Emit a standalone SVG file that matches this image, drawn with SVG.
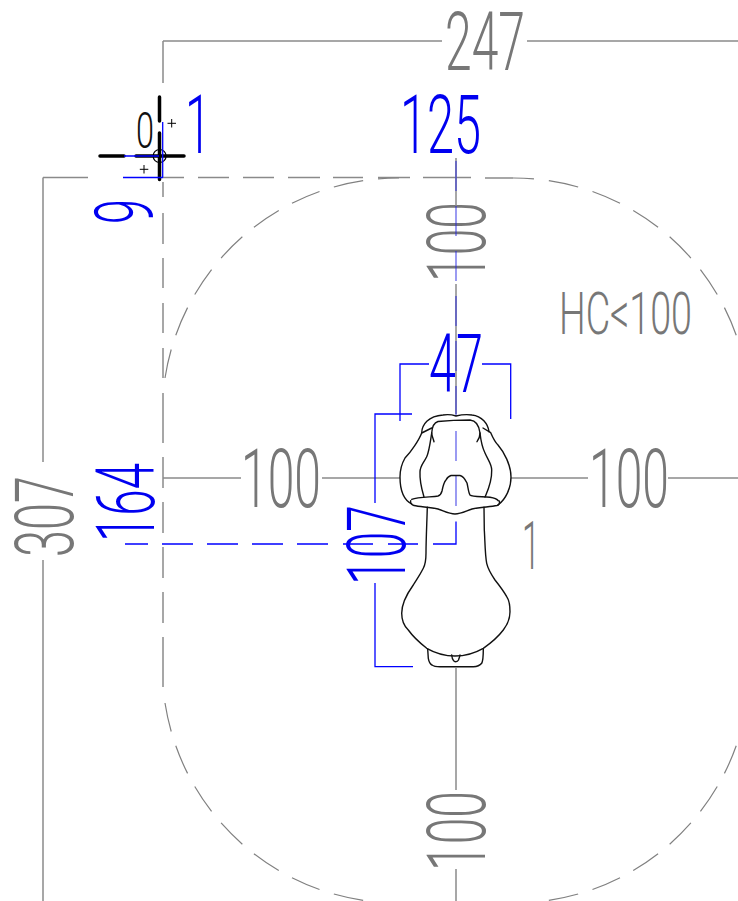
<svg xmlns="http://www.w3.org/2000/svg" width="738" height="901" viewBox="0 0 738 901">
<style>
.g{fill:none;stroke:#8a8a8a;stroke-width:1.5}
.a{fill:none;stroke:#808080;stroke-width:1.2;stroke-dasharray:30 15;stroke-dashoffset:9}
.b{fill:none;stroke:#0000ff;stroke-width:1.3}
.m{fill:none;stroke:#2020e0;stroke-width:1.2;stroke-dasharray:30 15;opacity:.75}
.k{fill:none;stroke:#111;stroke-width:1.4;stroke-linejoin:round;stroke-linecap:round}
.c{fill:none;stroke:#000;stroke-width:3.5;stroke-linecap:round}
text{font-family:"Roboto","Liberation Sans",sans-serif;font-weight:300;font-size:82px}
.tg{fill:#777}
.tb{fill:#0000f0}
</style>
<rect width="738" height="901" fill="#fff"/>
<g id="labels">
<text class="tg" textLength="80" lengthAdjust="spacingAndGlyphs" x="445" y="70">247</text>
<text class="tb" textLength="81" lengthAdjust="spacingAndGlyphs" x="400" y="153">125</text>
<text class="tb" textLength="26" lengthAdjust="spacingAndGlyphs" x="185" y="153">1</text>
<text style="font-size:50px" fill="#111" textLength="18" lengthAdjust="spacingAndGlyphs" x="136" y="148">0</text>
<text class="tb" textLength="25" lengthAdjust="spacingAndGlyphs" transform="translate(153 224) rotate(-90)">9</text>
<text class="tg" textLength="80" lengthAdjust="spacingAndGlyphs" transform="translate(485 282) rotate(-90)">100</text>
<text class="tg" style="font-size:60px" textLength="133" lengthAdjust="spacingAndGlyphs" x="559" y="334">HC&lt;100</text>
<text class="tb" textLength="54" lengthAdjust="spacingAndGlyphs" x="429" y="392">47</text>
<text class="tg" textLength="80" lengthAdjust="spacingAndGlyphs" x="241" y="507">100</text>
<text class="tg" textLength="80" lengthAdjust="spacingAndGlyphs" x="589" y="507">100</text>
<text class="tb" textLength="79" lengthAdjust="spacingAndGlyphs" transform="translate(154 542) rotate(-90)">164</text>
<text class="tg" textLength="81" lengthAdjust="spacingAndGlyphs" transform="translate(73 557) rotate(-90)">307</text>
<text class="tb" textLength="80" lengthAdjust="spacingAndGlyphs" transform="translate(405 585) rotate(-90)">107</text>
<text class="tg" style="font-size:66px" textLength="18" lengthAdjust="spacingAndGlyphs" x="522" y="569">1</text>
<text class="tg" textLength="80" lengthAdjust="spacingAndGlyphs" transform="translate(485 871) rotate(-90)">100</text>
</g>
<g id="connectors">
<path class="g" d="M163 41H442M527 41H738"/>
<path class="g" d="M43 177.500H88M43 177.500V462M43 560V901"/>
<path class="g" d="M163 177.500H184M198 177.500H229M243 177.500H274M288 177.500H320M333 177.500H363M378 177.500H410M423 177.500H471"/>
<path class="g" d="M163 41V83M163 182V197M163 213V244M163 258V288M163 303V333M163 348V378M163 393V443M163 457V488M163 502V533M163 547V578M163 592V623M163 637V687"/>
<path class="a" d="M399 178A236 236 0 0 0 165 378"/>
<path class="a" d="M399 903A236 236 0 0 1 165 703"/>
<path class="a" d="M513 178A236 236 0 0 1 747 378"/>
<path class="a" d="M513 903A236 236 0 0 0 747 703"/>
<path class="g" stroke-width="1.2" d="M485 178H513"/>
<path class="g" d="M456 158V206M456 284V414M163 478H241M322 478H400M511 478H588M668 478H738M456 668V790M456 869V901"/>
<path class="m" d="M456 161V416"/>
<path class="m" d="M456 431V461M456 476V506"/>
<path class="b" d="M400 421V364H429M482 364H510.700V419"/>
<path class="b" d="M412 414H375V503M375 583V666.700H413"/>
<path class="b" d="M125 544H148M162 544H193M207 544H238M252 544H283M297 544H328M343 544H373M388 544H418M433 544H456V521.500"/>
</g>
<g id="part">
<path class="k" d="M421.700 432.700C422 425 428 416 443 415C449 414 453 415 456 416C460 415 466 414 472 415C482 416 488 424 489 431.700"/>
<path class="k" d="M431.700 428L421.700 433C419 440 411 452 405 458C401 465 400 470 400 477C400 486 402 499 411.700 504"/>
<path class="k" d="M483 428L490.700 432.700C493 438 496 443 498 445C504 452 511 465 511 477C511 488 506 499 498 505"/>
<path class="k" d="M434 441.700C433 438 431.500 435 431.700 433C432 428 433 423 438 421.500C448 420.500 460 420 470 420C475 420.500 479 425 480 433C480 436 479 439 477 441.700"/>
<path class="k" d="M431.700 433C430 444 429 452 426.700 456.700C423 464 420 466 420 472C419.500 482 422 490 424 497"/>
<path class="k" d="M480 433C481 442 483 449 485 453C488 460 491.700 464 491.700 470C492 482 488 490 485 497"/>
<path class="k" d="M411.700 499.300C418 497 432 497 438 496C441 495 441.500 493 442 491C443 486 444 482 446 480C447 478 449 476 451 475.500H460C463 476 465 479 467 483C468 487 468.500 493 470 495C472 497 482 496.500 490 497.300C494 498 497 499 498.300 500.700"/>
<path class="k" d="M410.700 500.700C410 503 412 505 414 505.500C420 507 430 507 438 509C444 511 449 514 455 514C461 514 466 511 472 509C480 507 490 507 497 505.500C499 505 500 503 499.300 501"/>
<path class="k" d="M427.300 507.300C427 520 426 540 426 553C426 562 425 565 423.300 568.300C420 575 417 579 413.300 585C409 591 401.700 601 401.700 613.300C401.700 620 404 626 408.300 630C414 638 420 643 426.700 648.300C435 653 445 656 455 656C465 656 475 653 483.300 648.300C491 643 498 637 503.300 630C508 624 510 617 510 611.700C510 605 509 600 506.700 596.700C503 590 499 585 495 580C491 574 488 569 486.700 563.300C485 555 485 540 484.300 530L484 507.300"/>
<path class="k" d="M427.700 649.300L428.300 658.300C429 662 430 664 432 665C434 666.500 437 666.700 440 666.700H473.300C477 666.700 480 665.500 481.700 663.300C483 661 483.300 655 483.300 649.300"/>
<path class="k" d="M451.700 655C452 658 453 660 453.500 660.500C454 661.500 455 661.700 455.700 661.700C457 661.700 458 661 458.500 660C459 658 460 656.500 460 655"/>
</g>
<g id="origin">
<path class="c" d="M159.500 97V121M159.500 133V179.500M100 156H124M136 156H184"/>
<circle cx="159.600" cy="156" r="6.500" fill="none" stroke="#000" stroke-width="1.2"/>
<path class="b" d="M124 156H159M123 177.500H163M162.700 122V177.500" stroke-width="1.500"/>
<path d="M171.700 119V127.500M167.500 123.300H176M144 165V173.500M139.800 169.300H148.300" stroke="#000" stroke-width="1" fill="none"/>
</g>
</svg>
